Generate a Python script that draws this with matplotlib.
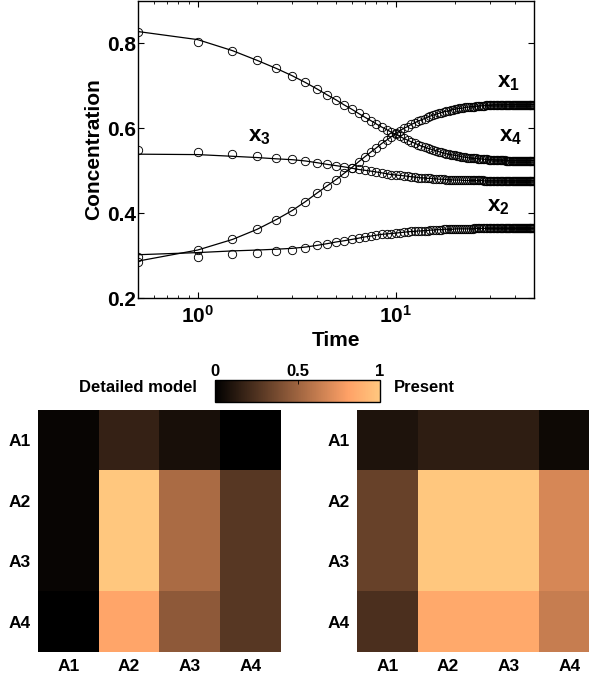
import matplotlib
matplotlib.use("Agg")
import matplotlib.pyplot as plt
from matplotlib.ticker import NullFormatter, FixedLocator, FixedFormatter, LogLocator
import matplotlib.cm as cm
import matplotlib.colors as mcolors

plt.rcParams['font.family'] = ['Liberation Sans', 'DejaVu Sans']
plt.rcParams['font.weight'] = 'bold'
plt.rcParams['mathtext.fontset'] = 'custom'
plt.rcParams['mathtext.bf'] = 'Liberation Sans:bold'
plt.rcParams['mathtext.rm'] = 'Liberation Sans:bold'
plt.rcParams['mathtext.it'] = 'Liberation Sans:bold'

# ---------------- data ----------------
time = [0.5, 1.0, 1.5, 2.0, 2.5, 3.0, 3.5, 4.0, 4.5, 5.0,
        5.5, 6.0, 6.5, 7.0, 7.5, 8.0, 8.5, 9.0, 9.5, 10.0,
        10.5, 11.0, 11.5, 12.0, 12.5, 13.0, 13.5, 14.0, 14.5, 15.0,
        15.5, 16.0, 16.5, 17.0, 17.5, 18.0, 18.5, 19.0, 19.5, 20.0,
        20.5, 21.0, 21.5, 22.0, 22.5, 23.0, 23.5, 24.0, 24.5, 25.0,
        25.5, 26.0, 26.5, 27.0, 27.5, 28.0, 28.5, 29.0, 29.5, 30.0,
        30.5, 31.0, 31.5, 32.0, 32.5, 33.0, 33.5, 34.0, 34.5, 35.0,
        35.5, 36.0, 36.5, 37.0, 37.5, 38.0, 38.5, 39.0, 39.5, 40.0,
        40.5, 41.0, 41.5, 42.0, 42.5, 43.0, 43.5, 44.0, 44.5, 45.0,
        45.5, 46.0, 46.5, 47.0, 47.5, 48.0, 48.5, 49.0, 49.5, 50.0]

# detailed-model samples (circles)
x1_data = [0.286, 0.313, 0.338, 0.362, 0.385, 0.406, 0.427, 0.447, 0.464, 0.479,
           0.494, 0.507, 0.521, 0.533, 0.544, 0.554, 0.564, 0.572, 0.580, 0.588,
           0.594, 0.600, 0.604, 0.609, 0.613, 0.617, 0.620, 0.623, 0.626, 0.629,
           0.631, 0.633, 0.635, 0.637, 0.639, 0.640, 0.641, 0.643, 0.644, 0.645,
           0.646, 0.647, 0.647, 0.648, 0.649, 0.650, 0.650, 0.651, 0.651, 0.651,
           0.652, 0.652, 0.653, 0.653, 0.653, 0.653, 0.654, 0.654, 0.654, 0.654,
           0.654, 0.655, 0.655, 0.655, 0.655, 0.655, 0.655, 0.655, 0.655, 0.655,
           0.656, 0.656, 0.656, 0.656, 0.656, 0.656, 0.656, 0.656, 0.656, 0.656,
           0.656, 0.656, 0.656, 0.656, 0.656, 0.656, 0.656, 0.656, 0.656, 0.656,
           0.656, 0.656, 0.656, 0.656, 0.656, 0.656, 0.656, 0.656, 0.656, 0.656]
x2_data = [0.296, 0.297, 0.303, 0.306, 0.310, 0.313, 0.319, 0.324, 0.328, 0.332,
           0.335, 0.338, 0.341, 0.344, 0.346, 0.348, 0.350, 0.351, 0.352, 0.353,
           0.354, 0.355, 0.356, 0.357, 0.357, 0.358, 0.358, 0.359, 0.359, 0.360,
           0.360, 0.361, 0.361, 0.361, 0.362, 0.362, 0.362, 0.362, 0.362, 0.363,
           0.363, 0.363, 0.363, 0.363, 0.363, 0.363, 0.363, 0.363, 0.363, 0.364,
           0.364, 0.364, 0.364, 0.364, 0.364, 0.364, 0.364, 0.364, 0.364, 0.364,
           0.364, 0.364, 0.364, 0.364, 0.364, 0.364, 0.364, 0.364, 0.364, 0.364,
           0.364, 0.364, 0.364, 0.364, 0.364, 0.364, 0.364, 0.364, 0.364, 0.364,
           0.364, 0.364, 0.364, 0.364, 0.364, 0.364, 0.364, 0.364, 0.364, 0.364,
           0.364, 0.364, 0.364, 0.364, 0.364, 0.364, 0.364, 0.364, 0.364, 0.364]
x3_data = [0.548, 0.543, 0.539, 0.535, 0.531, 0.527, 0.523, 0.519, 0.515, 0.512,
           0.509, 0.506, 0.503, 0.501, 0.499, 0.497, 0.495, 0.493, 0.491, 0.490,
           0.489, 0.488, 0.487, 0.486, 0.485, 0.484, 0.483, 0.483, 0.482, 0.482,
           0.481, 0.481, 0.480, 0.480, 0.480, 0.479, 0.479, 0.479, 0.478, 0.478,
           0.478, 0.478, 0.478, 0.477, 0.477, 0.477, 0.477, 0.477, 0.477, 0.477,
           0.477, 0.477, 0.477, 0.477, 0.477, 0.476, 0.476, 0.476, 0.476, 0.476,
           0.476, 0.476, 0.476, 0.476, 0.476, 0.476, 0.476, 0.476, 0.476, 0.476,
           0.476, 0.476, 0.476, 0.476, 0.476, 0.476, 0.476, 0.476, 0.476, 0.476,
           0.476, 0.476, 0.476, 0.476, 0.476, 0.476, 0.476, 0.476, 0.476, 0.476,
           0.476, 0.476, 0.476, 0.476, 0.476, 0.476, 0.476, 0.476, 0.476, 0.476]
x4_data = [0.828, 0.803, 0.781, 0.760, 0.741, 0.724, 0.708, 0.693, 0.679, 0.667,
           0.655, 0.645, 0.635, 0.626, 0.618, 0.610, 0.603, 0.597, 0.591, 0.586,
           0.581, 0.576, 0.572, 0.568, 0.565, 0.561, 0.558, 0.556, 0.553, 0.551,
           0.549, 0.547, 0.545, 0.543, 0.542, 0.540, 0.539, 0.538, 0.537, 0.536,
           0.535, 0.534, 0.533, 0.532, 0.532, 0.531, 0.530, 0.530, 0.529, 0.529,
           0.529, 0.528, 0.528, 0.528, 0.527, 0.527, 0.527, 0.527, 0.526, 0.526,
           0.526, 0.526, 0.526, 0.525, 0.525, 0.525, 0.525, 0.525, 0.525, 0.525,
           0.525, 0.524, 0.524, 0.524, 0.524, 0.524, 0.524, 0.524, 0.524, 0.524,
           0.524, 0.524, 0.524, 0.524, 0.524, 0.524, 0.524, 0.524, 0.524, 0.524,
           0.524, 0.524, 0.524, 0.524, 0.524, 0.524, 0.524, 0.524, 0.524, 0.524]

# present (reduced) model curves (solid lines): differ only at early times
x1_model = [0.287] + x1_data[1:]
x2_model = [0.302, 0.307, 0.311, 0.313, 0.315, 0.317, 0.320] + x2_data[7:]
x3_model = [0.539, 0.538, 0.534, 0.531, 0.528, 0.526] + x3_data[6:]
x4_model = [0.828, 0.809, 0.783] + x4_data[3:]

species_labels = ['x', 'x', 'x', 'x']
species_subs = ['1', '2', '3', '4']
label_t = [32.7, 28.8, 1.79, 33.4]
label_y = [0.708, 0.415, 0.580, 0.580]

blocks = ['A1', 'A2', 'A3', 'A4']
detailed = [[0.03, 0.17, 0.08, 0.00],
            [0.03, 1.00, 0.54, 0.28],
            [0.03, 1.00, 0.54, 0.28],
            [0.00, 0.83, 0.45, 0.28]]
present = [[0.10, 0.15, 0.15, 0.05],
           [0.33, 1.00, 1.00, 0.68],
           [0.33, 1.00, 1.00, 0.68],
           [0.24, 0.85, 0.85, 0.63]]
cbar_ticks = [0, 0.5, 1]
cbar_ticklabels = ['0', '0.5', '1']

# ---------------- figure ----------------
W, H = 589, 680
fig = plt.figure(figsize=(W / 100, H / 100), dpi=100)

def rect(x0, y0, x1, y1):
    return [x0 / W, 1 - y1 / H, (x1 - x0) / W, (y1 - y0) / H]

ax = fig.add_axes(rect(138, 1, 534, 298))
for d, m in zip([x1_data, x2_data, x3_data, x4_data],
                [x1_model, x2_model, x3_model, x4_model]):
    ax.plot(time, m, color='black', lw=0.9, zorder=2)
    ax.plot(time, d, linestyle='none', marker='o', ms=6, mfc='none',
            mec='black', mew=0.65, zorder=3)

ax.set_xscale('log')
ax.set_xlim(0.5, 50)
ax.set_ylim(0.2, 0.9)
ax.xaxis.set_major_locator(FixedLocator([1, 10]))
ax.xaxis.set_major_formatter(FixedFormatter([r'$\mathbf{10^0}$', r'$\mathbf{10^1}$']))
ax.xaxis.set_minor_locator(LogLocator(base=10, subs=(2, 3, 4, 5, 6, 7, 8, 9), numticks=20))
ax.xaxis.set_minor_formatter(NullFormatter())
ax.set_yticks([0.2, 0.4, 0.6, 0.8])
ax.set_yticklabels(['0.2', '0.4', '0.6', '0.8'])
ax.tick_params(which='both', direction='in', top=True, right=True, labelsize=15)
ax.tick_params(axis='y', which='major', length=4, pad=1.5)
ax.tick_params(axis='x', which='major', length=4, pad=5)
ax.tick_params(which='minor', length=2.5)
for s in ax.spines.values():
    s.set_linewidth(1.0)
ax.set_xlabel('Time', fontsize=15, fontweight='bold', labelpad=3)
ax.set_ylabel('Concentration', fontsize=15, fontweight='bold', labelpad=3)

for lab, sub, tx, ty in zip(species_labels, species_subs, label_t, label_y):
    ax.text(tx, ty, r'$\mathbf{%s_%s}$' % (lab, sub), fontsize=16,
            ha='left', va='center')

# colorbar
cax = fig.add_axes(rect(215, 380, 380, 402))
sm = cm.ScalarMappable(norm=mcolors.Normalize(0, 1), cmap='copper')
cb = fig.colorbar(sm, cax=cax, orientation='horizontal', ticks=cbar_ticks)
cb.ax.xaxis.set_ticks_position('top')
cb.ax.xaxis.set_label_position('top')
cb.ax.set_xticklabels(cbar_ticklabels)
cb.ax.tick_params(direction='in', length=3, labelsize=12, pad=1, width=0.6)
cb.outline.set_linewidth(1.0)
fig.text(197 / W, 1 - 388 / H, 'Detailed model', ha='right', va='center',
         fontsize=12, fontweight='bold')
fig.text(394 / W, 1 - 388 / H, 'Present', ha='left', va='center',
         fontsize=12, fontweight='bold')

# heatmaps
for data, (x0, x1) in zip([detailed, present], [(38, 281), (357, 600)]):
    hx = fig.add_axes(rect(x0, 410, x1, 652))
    hx.imshow(data, cmap='copper', vmin=0, vmax=1, aspect='auto',
              interpolation='nearest')
    hx.set_xticks(range(len(blocks)))
    hx.set_xticklabels(blocks)
    hx.set_yticks(range(len(blocks)))
    hx.set_yticklabels(blocks)
    hx.tick_params(length=0, labelsize=12.5, pad=5)
    for s in hx.spines.values():
        s.set_visible(False)

fig.savefig('out.png', dpi=100)
